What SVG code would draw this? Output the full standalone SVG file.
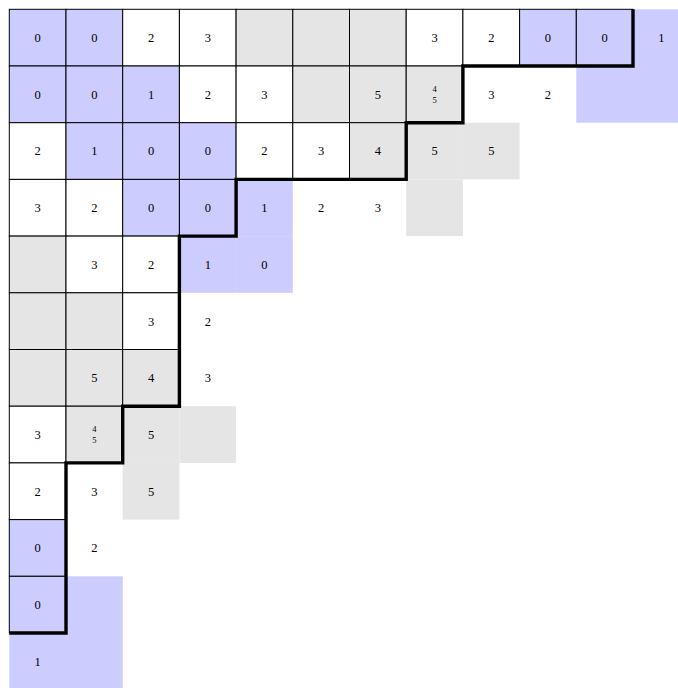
<svg xmlns="http://www.w3.org/2000/svg" width="678" height="688" viewBox="0 0 678 688">
<style>
.B{fill:#ccccff}
.G{fill:#e5e5e5}
.W{fill:#ffffff}
.b{stroke:#000;stroke-width:1}
text{font-family:"Liberation Serif","DejaVu Serif",serif;font-size:12.5px;text-anchor:middle;fill:#000}
text.f{font-size:8.5px}
.thick{fill:none;stroke:#000;stroke-width:3.4;stroke-linejoin:miter}
</style>
<rect x="0" y="0" width="678" height="688" fill="#fff"/>
<g id="outside">
<g id="r0c11"><rect class="B" x="633" y="9.3" width="56.7" height="56.7"/><text x="661.35" y="42">1</text></g>
<g id="r1c8"><text x="491.25" y="98.7">3</text></g>
<g id="r1c9"><text x="547.95" y="98.7">2</text></g>
<g id="r1c10"><rect class="B" x="576.3" y="66" width="56.7" height="56.7"/></g>
<g id="r1c11"><rect class="B" x="633" y="66" width="56.7" height="56.7"/></g>
<g id="r2c7"><rect class="G" x="406.2" y="122.7" width="56.7" height="56.7"/><text x="434.55" y="155.4">5</text></g>
<g id="r2c8"><rect class="G" x="462.9" y="122.7" width="56.7" height="56.7"/><text x="491.25" y="155.4">5</text></g>
<g id="r3c4"><rect class="B" x="236.1" y="179.4" width="56.7" height="56.7"/><text x="264.45" y="212.1">1</text></g>
<g id="r3c5"><text x="321.15" y="212.1">2</text></g>
<g id="r3c6"><text x="377.85" y="212.1">3</text></g>
<g id="r3c7"><rect class="G" x="406.2" y="179.4" width="56.7" height="56.7"/></g>
<g id="r4c3"><rect class="B" x="179.4" y="236.1" width="56.7" height="56.7"/><text x="207.75" y="268.8">1</text></g>
<g id="r4c4"><rect class="B" x="236.1" y="236.1" width="56.7" height="56.7"/><text x="264.45" y="268.8">0</text></g>
<g id="r5c3"><text x="207.75" y="325.5">2</text></g>
<g id="r6c3"><text x="207.75" y="382.2">3</text></g>
<g id="r7c2"><rect class="G" x="122.7" y="406.2" width="56.7" height="56.7"/><text x="151.05" y="438.9">5</text></g>
<g id="r7c3"><rect class="G" x="179.4" y="406.2" width="56.7" height="56.7"/></g>
<g id="r8c1"><text x="94.35" y="495.6">3</text></g>
<g id="r8c2"><rect class="G" x="122.7" y="462.9" width="56.7" height="56.7"/><text x="151.05" y="495.6">5</text></g>
<g id="r9c1"><text x="94.35" y="552.3">2</text></g>
<g id="r10c1"><rect class="B" x="66" y="576.3" width="56.7" height="56.7"/></g>
<g id="r11c0"><rect class="B" x="9.3" y="633" width="56.7" height="56.7"/><text x="37.65" y="665.7">1</text></g>
<g id="r11c1"><rect class="B" x="66" y="633" width="56.7" height="56.7"/></g>
</g>
<g id="diagram">
<g id="r0c0"><rect class="B b" x="9.3" y="9.3" width="56.7" height="56.7"/><text x="37.65" y="42">0</text></g>
<g id="r0c1"><rect class="B b" x="66" y="9.3" width="56.7" height="56.7"/><text x="94.35" y="42">0</text></g>
<g id="r0c2"><rect class="W b" x="122.7" y="9.3" width="56.7" height="56.7"/><text x="151.05" y="42">2</text></g>
<g id="r0c3"><rect class="W b" x="179.4" y="9.3" width="56.7" height="56.7"/><text x="207.75" y="42">3</text></g>
<g id="r0c4"><rect class="G b" x="236.1" y="9.3" width="56.7" height="56.7"/></g>
<g id="r0c5"><rect class="G b" x="292.8" y="9.3" width="56.7" height="56.7"/></g>
<g id="r0c6"><rect class="G b" x="349.5" y="9.3" width="56.7" height="56.7"/></g>
<g id="r0c7"><rect class="W b" x="406.2" y="9.3" width="56.7" height="56.7"/><text x="434.55" y="42">3</text></g>
<g id="r0c8"><rect class="W b" x="462.9" y="9.3" width="56.7" height="56.7"/><text x="491.25" y="42">2</text></g>
<g id="r0c9"><rect class="B b" x="519.6" y="9.3" width="56.7" height="56.7"/><text x="547.95" y="42">0</text></g>
<g id="r0c10"><rect class="B b" x="576.3" y="9.3" width="56.7" height="56.7"/><text x="604.65" y="42">0</text></g>

<g id="r1c0"><rect class="B b" x="9.3" y="66" width="56.7" height="56.7"/><text x="37.65" y="98.7">0</text></g>
<g id="r1c1"><rect class="B b" x="66" y="66" width="56.7" height="56.7"/><text x="94.35" y="98.7">0</text></g>
<g id="r1c2"><rect class="B b" x="122.7" y="66" width="56.7" height="56.7"/><text x="151.05" y="98.7">1</text></g>
<g id="r1c3"><rect class="W b" x="179.4" y="66" width="56.7" height="56.7"/><text x="207.75" y="98.7">2</text></g>
<g id="r1c4"><rect class="W b" x="236.1" y="66" width="56.7" height="56.7"/><text x="264.45" y="98.7">3</text></g>
<g id="r1c5"><rect class="G b" x="292.8" y="66" width="56.7" height="56.7"/></g>
<g id="r1c6"><rect class="G b" x="349.5" y="66" width="56.7" height="56.7"/><text x="377.85" y="98.7">5</text></g>
<g id="r1c7"><rect class="G b" x="406.2" y="66" width="56.7" height="56.7"/><text class="f" x="434.55" y="92">4</text><text class="f" x="434.55" y="103">5</text></g>

<g id="r2c0"><rect class="W b" x="9.3" y="122.7" width="56.7" height="56.7"/><text x="37.65" y="155.4">2</text></g>
<g id="r2c1"><rect class="B b" x="66" y="122.7" width="56.7" height="56.7"/><text x="94.35" y="155.4">1</text></g>
<g id="r2c2"><rect class="B b" x="122.7" y="122.7" width="56.7" height="56.7"/><text x="151.05" y="155.4">0</text></g>
<g id="r2c3"><rect class="B b" x="179.4" y="122.7" width="56.7" height="56.7"/><text x="207.75" y="155.4">0</text></g>
<g id="r2c4"><rect class="W b" x="236.1" y="122.7" width="56.7" height="56.7"/><text x="264.45" y="155.4">2</text></g>
<g id="r2c5"><rect class="W b" x="292.8" y="122.7" width="56.7" height="56.7"/><text x="321.15" y="155.4">3</text></g>
<g id="r2c6"><rect class="G b" x="349.5" y="122.7" width="56.7" height="56.7"/><text x="377.85" y="155.4">4</text></g>

<g id="r3c0"><rect class="W b" x="9.3" y="179.4" width="56.7" height="56.7"/><text x="37.65" y="212.1">3</text></g>
<g id="r3c1"><rect class="W b" x="66" y="179.4" width="56.7" height="56.7"/><text x="94.35" y="212.1">2</text></g>
<g id="r3c2"><rect class="B b" x="122.7" y="179.4" width="56.7" height="56.7"/><text x="151.05" y="212.1">0</text></g>
<g id="r3c3"><rect class="B b" x="179.4" y="179.4" width="56.7" height="56.7"/><text x="207.75" y="212.1">0</text></g>

<g id="r4c0"><rect class="G b" x="9.3" y="236.1" width="56.7" height="56.7"/></g>
<g id="r4c1"><rect class="W b" x="66" y="236.1" width="56.7" height="56.7"/><text x="94.35" y="268.8">3</text></g>
<g id="r4c2"><rect class="W b" x="122.7" y="236.1" width="56.7" height="56.7"/><text x="151.05" y="268.8">2</text></g>

<g id="r5c0"><rect class="G b" x="9.3" y="292.8" width="56.7" height="56.7"/></g>
<g id="r5c1"><rect class="G b" x="66" y="292.8" width="56.7" height="56.7"/></g>
<g id="r5c2"><rect class="W b" x="122.7" y="292.8" width="56.7" height="56.7"/><text x="151.05" y="325.5">3</text></g>

<g id="r6c0"><rect class="G b" x="9.3" y="349.5" width="56.7" height="56.7"/></g>
<g id="r6c1"><rect class="G b" x="66" y="349.5" width="56.7" height="56.7"/><text x="94.35" y="382.2">5</text></g>
<g id="r6c2"><rect class="G b" x="122.7" y="349.5" width="56.7" height="56.7"/><text x="151.05" y="382.2">4</text></g>

<g id="r7c0"><rect class="W b" x="9.3" y="406.2" width="56.7" height="56.7"/><text x="37.65" y="438.9">3</text></g>
<g id="r7c1"><rect class="G b" x="66" y="406.2" width="56.7" height="56.7"/><text class="f" x="94.35" y="432.2">4</text><text class="f" x="94.35" y="443.2">5</text></g>

<g id="r8c0"><rect class="W b" x="9.3" y="462.9" width="56.7" height="56.7"/><text x="37.65" y="495.6">2</text></g>
<g id="r9c0"><rect class="B b" x="9.3" y="519.6" width="56.7" height="56.7"/><text x="37.65" y="552.3">0</text></g>
<g id="r10c0"><rect class="B b" x="9.3" y="576.3" width="56.7" height="56.7"/><text x="37.65" y="609">0</text></g>
</g>
<g id="connectors">
<path class="thick" d="M633,9.3 V66 H462.9 V122.7 H406.2 V179.4 H236.1 V236.1 H179.4 V406.2 H122.7 V462.9 H66 V633 H9.3"/>
</g>
</svg>
